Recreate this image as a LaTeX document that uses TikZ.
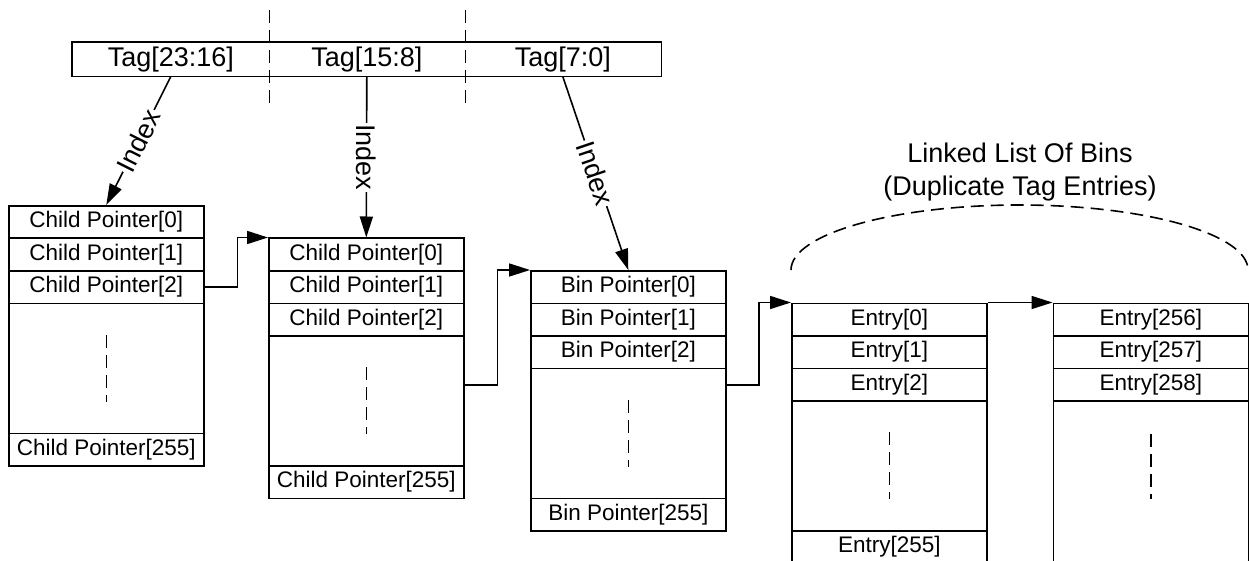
\documentclass[tikz,border=0pt]{standalone}
\usepackage{fontspec}
\setmainfont{Liberation Sans}
\usetikzlibrary{arrows.meta}

\begin{document}
\begin{tikzpicture}[x=1pt,y=-1pt,
  line width=1.6pt,
  cell/.style={draw, minimum width=195pt, minimum height=32.5pt, inner sep=0pt,
    anchor=north west, font=\fontsize{22.5}{27}\selectfont},
  gapcell/.style={draw, minimum width=195pt, minimum height=130pt, inner sep=0pt,
    anchor=north west},
  tagcell/.style={minimum width=196pt, minimum height=33pt, inner sep=0pt,
    anchor=north west, font=\fontsize{27}{32}\selectfont},
  dashline/.style={dash pattern=on 13pt off 7pt},
  conn/.style={-{Triangle[length=21pt,width=13pt]}},
  lab/.style={fill=white, inner sep=1.5pt, font=\fontsize{27}{32}\selectfont},
  title/.style={align=center, font=\fontsize{27}{33}\selectfont}]

\useasboundingbox (0,0) rectangle (1249,561);
\fill[white] (0,0) rectangle (1249,561);
\clip (0,0) rectangle (1249,561);

% Tag register
\node[tagcell] (tag1) at (72,42) {Tag[23:16]};
\node[tagcell] (tag2) at (268,42) {Tag[15:8]};
\node[tagcell] (tag3) at (464,42) {Tag[7:0]};
\draw (tag1.north west) rectangle (tag3.south east);
\draw[dashline] ([yshift=32pt]tag1.north east) -- ([yshift=-26pt]tag1.south east);
\draw[dashline] ([yshift=32pt]tag2.north east) -- ([yshift=-26pt]tag2.south east);

% Table 1
\node[cell] (t1a) at (8,205) {Child Pointer[0]};
\node[cell] (t1b) at (8,237.5) {Child Pointer[1]};
\node[cell] (t1c) at (8,270) {Child Pointer[2]};
\node[gapcell] (t1d) at (8,302.5) {};
\node[cell] (t1e) at (8,432.5) {Child Pointer[255]};
\draw[dashline] ([yshift=33.5pt]t1d.center) -- ([yshift=-33.5pt]t1d.center);

% Table 2
\node[cell] (t2a) at (268,237.5) {Child Pointer[0]};
\node[cell] (t2b) at (268,270) {Child Pointer[1]};
\node[cell] (t2c) at (268,302.5) {Child Pointer[2]};
\node[gapcell] (t2d) at (268,335) {};
\node[cell] (t2e) at (268,465) {Child Pointer[255]};
\draw[dashline] ([yshift=33.5pt]t2d.center) -- ([yshift=-33.5pt]t2d.center);

% Table 3
\node[cell] (t3a) at (530,270) {Bin Pointer[0]};
\node[cell] (t3b) at (530,302.5) {Bin Pointer[1]};
\node[cell] (t3c) at (530,335) {Bin Pointer[2]};
\node[gapcell] (t3d) at (530,367.5) {};
\node[cell] (t3e) at (530,497.5) {Bin Pointer[255]};
\draw[dashline] ([yshift=33.5pt]t3d.center) -- ([yshift=-33.5pt]t3d.center);

% Table 4
\node[cell] (t4a) at (791,302.5) {Entry[0]};
\node[cell] (t4b) at (791,335) {Entry[1]};
\node[cell] (t4c) at (791,367.5) {Entry[2]};
\node[gapcell] (t4d) at (791,400) {};
\node[cell] (t4e) at (791,530) {Entry[255]};
\draw[dashline] ([yshift=33.5pt]t4d.center) -- ([yshift=-33.5pt]t4d.center);

% Table 5
\node[cell] (t5a) at (1052.5,302.5) {Entry[256]};
\node[cell] (t5b) at (1052.5,335) {Entry[257]};
\node[cell] (t5c) at (1052.5,367.5) {Entry[258]};
\node[gapcell, minimum height=170pt] (t5d) at (1052.5,400) {};
\draw[dashline] ([yshift=-33.5pt]t5d.north) -- ([yshift=-98.5pt]t5d.north);

% Index arrows
\draw[conn] (tag1.south) -- (t1a.north) node[midway, sloped, lab] {Index};
\draw[conn] (tag2.south) -- (t2a.north) node[midway, rotate=-90, lab] {Index};
\draw[conn] (tag3.south) -- (t3a.north) node[midway, sloped, lab] {Index};

% Pointer connectors
\draw[conn] (t1c.east) -- ++(33,0) |- (t2a.north west);
\draw[conn] ([yshift=16pt]t2d.east) -- ++(33,0) |- (t3a.north west);
\draw[conn] ([yshift=48.5pt]t3d.east) -- ++(32.5,0) |- (t4a.north west);
\draw[conn] (t4a.north east) -- (t5a.north west);

% Linked list brace
\coordinate (arcL) at (791,270);
\coordinate (arcT) at (1019.5,205);
\coordinate (arcR) at (1248,270);
\draw[dashline] (arcL) .. controls (791,234.1) and (893.4,205) .. (arcT)
  .. controls (1145.6,205) and (1248,234.1) .. (arcR);
\node[title] (title) at (1020,172) {Linked List Of Bins\\(Duplicate Tag Entries)};

\end{tikzpicture}
\end{document}
